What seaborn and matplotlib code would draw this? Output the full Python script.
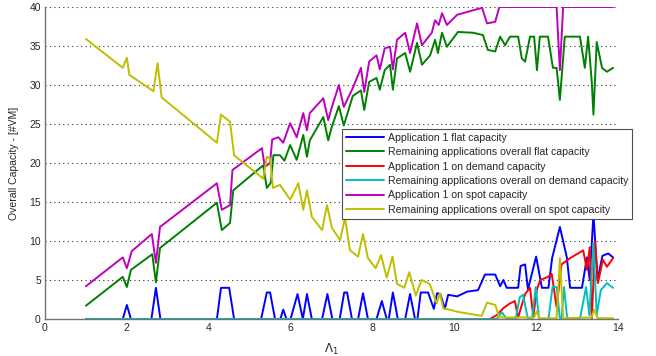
import matplotlib
matplotlib.use("Agg")
import matplotlib.pyplot as plt
import seaborn as sns
import numpy as np

# ---- data ----
blue_x = [1, 1.9, 2.0, 2.1, 2.6, 2.71, 2.82, 4.2, 4.3, 4.5, 4.62, 5.28, 5.42, 5.5, 5.62, 5.75, 5.82, 5.9,
          6.0, 6.17, 6.3, 6.4, 6.52, 6.77, 6.9, 7.02, 7.2, 7.31, 7.38, 7.5, 7.65, 7.77, 7.89, 8.1, 8.23,
          8.35, 8.4, 8.5, 8.62, 8.8, 8.92, 9.04, 9.1, 9.18, 9.36, 9.5, 9.58, 9.66, 9.77, 9.85, 10.07,
          10.31, 10.58, 10.75, 11.0, 11.12, 11.2, 11.28, 11.56, 11.62, 11.73, 11.8, 12.0, 12.14, 12.3,
          12.39, 12.58, 12.75, 12.83, 13.12, 13.24, 13.31, 13.4, 13.5, 13.62, 13.76, 13.88]
blue_y = [0, 0, 1.8, 0, 0, 4.0, 0, 0, 4.0, 4.0, 0, 0, 3.4, 3.4, 0, 0, 1.2, 0,
          0, 3.2, 0, 3.2, 0, 0, 3.2, 0, 0, 3.4, 3.4, 0, 0, 3.3, 0, 0, 2.3,
          0, 0, 3.4, 0, 0, 3.2, 0, 0, 3.4, 3.4, 1.3, 3.3, 3.2, 1.3, 3.1, 2.9,
          3.5, 3.7, 5.7, 5.7, 4.2, 5.0, 4.0, 4.0, 6.8, 7.0, 3.8, 8.0, 4.0, 4.0,
          7.8, 11.8, 7.9, 4.0, 4.0, 7.9, 5.0, 13.5, 5.0, 8.1, 8.4, 7.9]

green_x = [1, 1.9, 2.0, 2.1, 2.62, 2.71, 2.81, 4.2, 4.32, 4.52, 4.6, 5.33, 5.42, 5.52, 5.58, 5.74, 5.85,
           5.99, 6.15, 6.31, 6.4, 6.47, 6.8, 6.92, 7.0, 7.18, 7.3, 7.52, 7.72, 7.8, 7.92, 8.1, 8.18, 8.3,
           8.43, 8.5, 8.6, 8.8, 8.92, 9.09, 9.21, 9.41, 9.53, 9.6, 9.7, 9.82, 10.09, 10.46, 10.7, 10.82,
           11.0, 11.12, 11.24, 11.36, 11.56, 11.65, 11.73, 11.85, 11.95, 12.02, 12.09, 12.29, 12.41, 12.5,
           12.58, 12.7, 13.07, 13.19, 13.27, 13.36, 13.4, 13.48, 13.61, 13.73, 13.88]
green_y = [1.7, 5.4, 4.1, 6.3, 8.3, 4.7, 9.1, 14.9, 11.4, 12.3, 16.5, 19.7, 16.8, 17.5, 21.0, 21.0, 20.3,
           22.3, 20.4, 23.6, 20.8, 22.9, 25.9, 22.9, 24.5, 27.3, 24.8, 28.6, 29.3, 26.8, 30.4, 30.9, 29.4, 31.9,
           32.6, 29.4, 33.4, 34.1, 31.7, 35.4, 32.6, 33.8, 35.8, 34.1, 36.7, 34.9, 36.8, 36.7, 36.4, 34.5,
           34.3, 36.2, 35.1, 36.2, 36.2, 33.4, 33.0, 36.2, 36.2, 31.9, 36.2, 36.2, 32.2, 32.2,
           28.1, 36.2, 36.2, 32.2, 36.2, 30.3, 26.2, 35.5, 32.2, 31.7, 32.2]

red_x = [1, 10.87, 11.04, 11.2, 11.36, 11.48, 11.56, 11.73, 11.85, 11.93, 12.02, 12.1, 12.29, 12.38,
         12.5, 12.62, 12.83, 13.15, 13.24, 13.31, 13.36, 13.44, 13.51, 13.63, 13.73, 13.88]
red_y = [0, 0, 0.5, 1.4, 2.0, 2.3, 0.2, 3.2, 4.0, 0.3, 3.8, 5.0, 5.4, 5.8,
         1.5, 7.0, 7.8, 8.8, 6.3, 9.2, 0, 9.9, 4.6, 7.6, 6.7, 7.8]

cyan_x = [1, 11.04, 11.16, 11.28, 11.5, 11.6, 11.68, 11.8, 11.9, 11.99, 12.07, 12.3, 12.4, 12.5, 12.58,
          12.62, 12.68, 12.76, 13.07, 13.22, 13.3, 13.4, 13.48, 13.58, 13.73, 13.88]
cyan_y = [0, 0, 0.9, 0, 0, 2.8, 3.1, 0, 0, 4.1, 0, 0, 4.1, 4.1, 0,
          0, 4.1, 0, 0, 4.1, 0.5, 9.7, 0.5, 3.7, 4.6, 4.0]

magenta_x = [1, 1.9, 2.0, 2.12, 2.61, 2.71, 2.81, 4.2, 4.32, 4.52, 4.58, 5.3, 5.37, 5.5, 5.55, 5.7, 5.82,
             5.99, 6.15, 6.31, 6.4, 6.47, 6.8, 6.92, 7.0, 7.18, 7.3, 7.52, 7.72, 7.8, 7.92, 8.1, 8.18, 8.3,
             8.43, 8.5, 8.6, 8.8, 8.92, 9.09, 9.21, 9.45, 9.53, 9.62, 9.7, 9.82, 10.07, 10.68, 10.8, 11.0,
             11.1, 12.5, 12.58, 12.66, 13.88]
magenta_y = [4.2, 7.9, 6.5, 8.7, 10.9, 7.2, 11.8, 17.4, 14.0, 14.6, 19.1, 21.9, 19.5, 20.0, 23.0, 23.3, 22.6,
             25.1, 23.3, 26.4, 24.2, 26.4, 28.3, 25.5, 27.0, 30.0, 27.2, 29.6, 32.2, 29.1, 33.0, 33.8, 32.0, 34.7,
             34.9, 32.0, 35.8, 36.7, 34.1, 37.9, 35.1, 36.7, 38.3, 37.7, 39.2, 37.7, 39.0, 39.9, 37.9, 38.1,
             40, 40, 31.9, 40, 40]

yellow_x = [1, 1.9, 2.0, 2.06, 2.65, 2.75, 2.85, 4.2, 4.3, 4.52, 4.62, 5.33, 5.42, 5.5, 5.57, 5.74, 5.99,
            6.19, 6.31, 6.4, 6.52, 6.77, 6.89, 7.01, 7.21, 7.33, 7.45, 7.65, 7.77, 7.89, 8.08, 8.21, 8.35,
            8.49, 8.6, 8.78, 8.9, 9.06, 9.2, 9.4, 9.57, 9.65, 9.73, 10.1, 10.67, 10.8, 11.0, 11.1, 11.95,
            12.02, 12.08, 12.5, 12.58, 12.66, 13.35, 13.42, 13.5, 13.88]
yellow_y = [35.9, 32.2, 33.5, 31.3, 29.2, 32.8, 28.4, 22.6, 26.2, 25.3, 21.0, 18.0, 20.8, 20.6, 16.8, 17.2, 15.3,
            17.4, 14.0, 16.5, 13.1, 11.4, 14.6, 11.7, 10.1, 13.0, 8.8, 8.0, 10.9, 7.8, 6.5, 8.2, 5.3,
            8.0, 4.5, 4.0, 6.0, 3.0, 5.0, 4.5, 2.0, 3.3, 1.4, 0.9, 0.4, 2.1, 1.8, 0.2, 0.2,
            1.0, 0.1, 0.1, 7.8, 0.1, 0.2, 1.2, 0.1, 0.1]

labels = ["Application 1 flat capacity",
          "Remaining applications overall flat capacity",
          "Application 1 on demand capacity",
          "Remaining applications overall on demand capacity",
          "Application 1 on spot capacity",
          "Remaining applications overall on spot capacity"]
colors = ["#0000ff", "#008000", "#ff0000", "#00bfbf", "#bf00bf", "#bfbf00"]

x_ticks = [0, 2, 4, 6, 8, 10, 12, 14]
y_ticks = [0, 5, 10, 15, 20, 25, 30, 35, 40]

# ---- plot ----
sns.set_style("white")
plt.rcParams['font.family'] = ['Liberation Sans', 'DejaVu Sans']

fig = plt.figure(figsize=(6.56, 3.56), dpi=100)
ax = fig.add_axes([45/656, 1-319/356, (618-45)/656, (319-7)/356])

series = [(blue_x, blue_y), (green_x, green_y), (red_x, red_y),
          (cyan_x, cyan_y), (magenta_x, magenta_y), (yellow_x, yellow_y)]
for (xs, ys), lab, col in zip(series, labels, colors):
    sns.lineplot(x=xs, y=ys, ax=ax, color=col, label=lab, linewidth=1.4,
                 sort=False, estimator=None)

ax.set_xlim(0, 14)
ax.set_ylim(0, 40)
ax.set_xticks(x_ticks)
ax.set_yticks(y_ticks)
ax.tick_params(direction='in', length=3, labelsize=7.5, colors='0.35', labelcolor='0.15', pad=3)
for s in ['top', 'right']:
    ax.spines[s].set_visible(False)
for s in ['left', 'bottom']:
    ax.spines[s].set_color('0.45')
    ax.spines[s].set_linewidth(1.0)
ax.yaxis.grid(True, linestyle=(0, (1, 3)), color='0.2', linewidth=0.8)
ax.set_axisbelow(True)

ax.set_ylabel("Overall Capacity - [#VM]", fontsize=7.5, color='0.15', labelpad=7)
ax.set_xlabel(r"$\Lambda_1$", fontsize=8.5, color='0.15', labelpad=6)

ax.get_legend().remove()
handles, labs = ax.get_legend_handles_labels()
leg = fig.legend(handles, labs, loc='upper left', bbox_to_anchor=(342/656, 1-129/356),
                 bbox_transform=fig.transFigure, fontsize=7.6, frameon=True, fancybox=False,
                 edgecolor='0.3', framealpha=1, handlelength=3.6, handletextpad=0.4,
                 labelspacing=0.42, borderpad=0.35, borderaxespad=0)
leg.get_frame().set_linewidth(0.8)

fig.savefig("out.png", dpi=100)
